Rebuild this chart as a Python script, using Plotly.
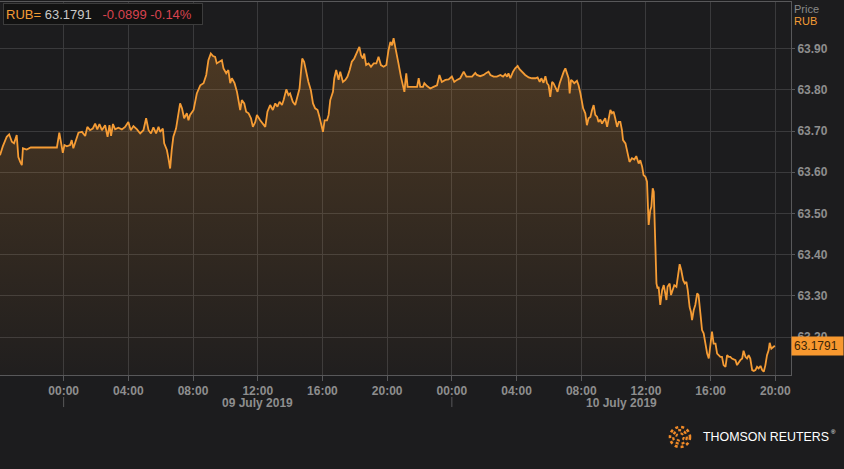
import pandas as pd
import plotly.graph_objects as go

# ---------------- data ----------------
base_time = "2019-07-09 00:00"
minutes_from_base = [-236,-226,-211,-202,-192,-184,-174,-168,-161,-155,-151,-137,-122,-25,-16,-9,-3,3,12,24,30,36,46,55,68,80,88,98,108,117,125,133,142,154,163,170,176,183,191,203,216,228,240,249,259,272,284,296,306,315,324,333,343,352,358,368,373,383,389,395,401,407,417,426,432,439,447,457,463,469,482,494,507,519,529,537,546,554,562,568,578,587,593,603,611,618,624,634,643,649,655,661,670,677,686,695,702,711,717,729,739,748,756,766,776,785,793,801,810,816,826,834,840,850,859,868,875,881,885,892,900,908,917,925,933,942,949,954,962,968,977,983,989,999,1004,1011,1020,1026,1036,1045,1053,1061,1069,1078,1088,1097,1103,1110,1115,1122,1131,1140,1150,1160,1168,1177,1187,1197,1205,1212,1218,1224,1230,1236,1242,1251,1259,1264,1267,1271,1276,1298,1311,1317,1323,1333,1338,1348,1360,1372,1385,1394,1403,1416,1428,1440,1449,1459,1471,1484,1494,1502,1515,1527,1533,1545,1558,1568,1576,1583,1595,1607,1620,1630,1638,1645,1650,1657,1667,1675,1684,1691,1700,1712,1725,1737,1750,1758,1766,1772,1780,1787,1793,1799,1805,1812,1817,1824,1832,1840,1849,1855,1861,1867,1873,1877,1882,1886,1894,1904,1910,1917,1927,1935,1941,1947,1954,1960,1966,1972,1979,1984,1991,1997,2003,2009,2016,2022,2028,2034,2040,2046,2053,2059,2065,2071,2075,2084,2090,2096,2099,2108,2117,2124,2133,2139,2146,2151,2158,2164,2170,2176,2180,2185,2189,2195,2199,2203,2207,2213,2220,2226,2232,2236,2240,2248,2253,2260,2265,2273,2278,2285,2291,2298,2304,2310,2315,2322,2327,2331,2337,2343,2350,2355,2362,2368,2374,2380,2387,2393,2399,2405,2411,2418,2424,2430,2436,2442,2448,2455,2461,2467,2473,2479,2485,2492,2498,2504,2510,2517,2522,2529,2535,2541,2547,2554,2560,2566,2572,2578,2585,2591,2597,2603,2609,2615,2619,2625,2632,2638]

price = [
63.641,63.662,63.686,63.692,63.674,63.670,63.690,63.637,63.625,63.617,
63.658,63.655,63.660,63.660,63.696,63.674,63.647,63.666,63.663,63.666,
63.678,63.658,63.678,63.696,63.698,63.688,63.710,63.702,63.706,63.718,
63.704,63.717,63.702,63.714,63.686,63.714,63.688,63.717,63.704,63.708,
63.704,63.710,63.722,63.702,63.712,63.704,63.694,63.702,63.731,63.702,
63.694,63.709,63.694,63.710,63.698,63.706,63.670,63.654,63.633,63.609,
63.654,63.686,63.706,63.747,63.767,63.755,63.731,63.743,63.726,63.739,
63.751,63.791,63.811,63.816,63.836,63.872,63.888,63.882,63.880,63.864,
63.868,63.872,63.852,63.840,63.848,63.816,63.828,63.816,63.795,63.775,
63.751,63.775,63.767,63.747,63.743,63.731,63.710,63.722,63.739,63.726,
63.718,63.710,63.747,63.763,63.751,63.767,63.759,63.771,63.763,63.775,
63.801,63.787,63.791,63.771,63.763,63.783,63.803,63.848,63.876,63.868,
63.840,63.819,63.799,63.767,63.755,63.751,63.734,63.722,63.698,63.726,
63.726,63.739,63.775,63.795,63.828,63.848,63.824,63.844,63.819,63.824,
63.832,63.848,63.868,63.876,63.892,63.904,63.884,63.876,63.888,63.860,
63.864,63.856,63.864,63.864,63.880,63.860,63.856,63.860,63.896,63.916,
63.908,63.925,63.904,63.880,63.864,63.832,63.803,63.795,63.816,63.840,
63.807,63.807,63.807,63.828,63.807,63.807,63.816,63.809,63.803,63.807,
63.811,63.836,63.819,63.824,63.825,63.832,63.819,63.824,63.828,63.844,
63.832,63.832,63.832,63.841,63.836,63.833,63.836,63.841,63.844,63.836,
63.832,63.832,63.836,63.832,63.838,63.832,63.840,63.828,63.844,63.852,
63.858,63.850,63.844,63.836,63.830,63.828,63.828,63.830,63.819,63.828,
63.817,63.833,63.816,63.811,63.783,63.819,63.816,63.807,63.795,63.816,
63.836,63.844,63.852,63.840,63.828,63.791,63.824,63.822,63.816,63.822,
63.811,63.791,63.755,63.743,63.714,63.731,63.734,63.751,63.763,63.739,
63.734,63.722,63.728,63.718,63.726,63.731,63.710,63.731,63.751,63.743,
63.747,63.731,63.710,63.722,63.722,63.702,63.678,63.670,63.654,63.637,
63.625,63.634,63.631,63.639,63.621,63.629,63.613,63.593,63.589,63.577,
63.472,63.508,63.516,63.561,63.552,63.419,63.330,63.318,63.322,63.278,
63.314,63.326,63.306,63.290,63.322,63.330,63.302,63.314,63.326,63.322,
63.346,63.377,63.362,63.338,63.330,63.334,63.314,63.273,63.261,63.241,
63.265,63.278,63.306,63.302,63.257,63.217,63.209,63.184,63.160,63.148,
63.176,63.213,63.184,63.184,63.160,63.156,63.152,63.152,63.132,63.128,
63.156,63.152,63.152,63.148,63.146,63.144,63.132,63.140,63.144,63.148,
63.167,63.152,63.148,63.156,63.148,63.120,63.118,63.120,63.128,63.124,
63.130,63.120,63.116,63.132,63.156,63.168,63.186,63.172,63.176,63.1791,
]

ric = "RUB="
last_text = "63.1791"
change_text = "-0.0899"
pct_text = "-0.14%"
y_tickvals = [63.20, 63.30, 63.40, 63.50, 63.60, 63.70, 63.80, 63.90]
x_range = ["2019-07-08 20:04", "2019-07-10 20:58"]
y_range = [63.108, 64.013]
day_labels = ["09 July 2019", "10 July 2019"]
day_label_pos = ["2019-07-09 12:00", "2019-07-10 10:29"]
day_starts = ["2019-07-09 00:00", "2019-07-10 00:00"]

n = min(len(minutes_from_base), len(price))
times = pd.Timestamp(base_time) + pd.to_timedelta(minutes_from_base[:n], unit="m")
vals = price[:n]

# ---------------- style ----------------
BG = "#1c1c1e"
GRID = "#3a3a3c"
FRAME = "#58585a"
ORANGE = "#f59c35"
TICKC = "#8e8e8e"
FONT = "Liberation Sans, Arial, sans-serif"

fig = go.Figure()
fig.add_trace(go.Scatter(
    x=times, y=vals, mode="lines",
    line=dict(color=ORANGE, width=1.8),
    fill="tozeroy",
    fillgradient=dict(type="vertical",
                      colorscale=[[0, "rgba(245,156,53,0.02)"], [1, "rgba(245,156,53,0.23)"]],
                      start=y_range[0], stop=63.93),
    hoverinfo="skip", showlegend=False,
))

fig.update_layout(
    width=844, height=469,
    margin=dict(l=0, r=53, t=2, b=94),
    paper_bgcolor=BG, plot_bgcolor=BG,
    font=dict(family=FONT, size=12, color=TICKC),
    xaxis=dict(
        type="date", range=x_range,
        tickformat="%H:%M", dtick=4 * 3600 * 1000, tick0="2019-07-09 00:00",
        showgrid=True, gridcolor=GRID, gridwidth=1,
        showline=True, linecolor=FRAME, linewidth=1, mirror=True,
        ticks="outside", ticklen=5, tickcolor=FRAME,
        tickfont=dict(family=FONT, size=12, color=TICKC, weight="bold"),
        zeroline=False, fixedrange=True,
    ),
    yaxis=dict(
        side="right", range=y_range,
        tickvals=y_tickvals, tickformat=".2f",
        showgrid=True, gridcolor=GRID, gridwidth=1,
        showline=True, linecolor=FRAME, linewidth=1, mirror=True,
        ticks="outside", ticklen=3, tickcolor=FRAME,
        tickfont=dict(family=FONT, size=12, color=TICKC, weight="bold"),
        zeroline=False, fixedrange=True,
    ),
)

annotations = []
for lab, pos in zip(day_labels, day_label_pos):
    annotations.append(dict(x=pos, xref="x", y=-0.074, yref="paper",
                            text=lab, showarrow=False, xanchor="center", yanchor="middle",
                            font=dict(family=FONT, size=12, color=TICKC, weight="bold")))
header = (f"<span style='color:{ORANGE}'>{ric}</span> "
          f"<span style='color:#c9c9c9'>{last_text}</span>&nbsp;&nbsp; "
          f"<span style='color:#d9434f'>{change_text} {pct_text}</span>")
annotations.append(dict(x=3 / 791, xref="paper", y=0.997, yref="paper",
                        text=header, showarrow=False, xanchor="left", yanchor="top",
                        align="left", width=194, height=16,
                        bgcolor="#121212", bordercolor="#3c3c3c", borderwidth=1, borderpad=2,
                        font=dict(family=FONT, size=13, color="#c9c9c9")))
annotations.append(dict(x=1.0, xref="paper", y=0.981, yref="paper", text="Price",
                        showarrow=False, xanchor="left", yanchor="middle", xshift=1,
                        font=dict(family=FONT, size=11, color="#8a8a8a")))
annotations.append(dict(x=1.0, xref="paper", y=0.949, yref="paper", text="RUB",
                        showarrow=False, xanchor="left", yanchor="middle", xshift=1,
                        font=dict(family=FONT, size=11, color=ORANGE)))
annotations.append(dict(x=1.0, xref="paper", y=vals[-1], yref="y", text=last_text,
                        showarrow=False, xanchor="left", yanchor="middle",
                        width=47, height=14, align="left",
                        bgcolor="#f7982f", borderpad=2,
                        font=dict(family=FONT, size=12, color="#3a2508")))
annotations.append(dict(x=701 / 791, xref="paper", y=(375 - 437) / 373, yref="paper",
                        text="THOMSON REUTERS", showarrow=False,
                        xanchor="left", yanchor="middle",
                        font=dict(family=FONT, size=12.4, color="#ffffff")))
annotations.append(dict(x=829 / 791, xref="paper", y=(375 - 432) / 373, yref="paper",
                        text="®", showarrow=False,
                        xanchor="left", yanchor="middle",
                        font=dict(family=FONT, size=6, color="#ffffff")))
fig.update_layout(annotations=annotations)

shapes = []
for d in day_starts:
    shapes.append(dict(type="line", xref="x", yref="paper", x0=d, x1=d,
                       y0=-0.059, y1=-0.086, line=dict(color=FRAME, width=1)))
cx, cy = 680 / 791, (375 - 437) / 373
for r, w in [(10, 2.6), (6.8, 2.3), (3.8, 2.0)]:
    shapes.append(dict(type="circle", xref="paper", yref="paper",
                       xsizemode="pixel", ysizemode="pixel",
                       xanchor=cx, yanchor=cy, x0=-r, x1=r, y0=-r, y1=r,
                       line=dict(color="#f08a28", width=w, dash="dot")))
fig.update_layout(shapes=shapes)

fig.write_html(
    "out.html",
    config={"displayModeBar": False},
    post_script="document.body.style.margin='0';document.body.style.background='#1c1c1e';",
)
